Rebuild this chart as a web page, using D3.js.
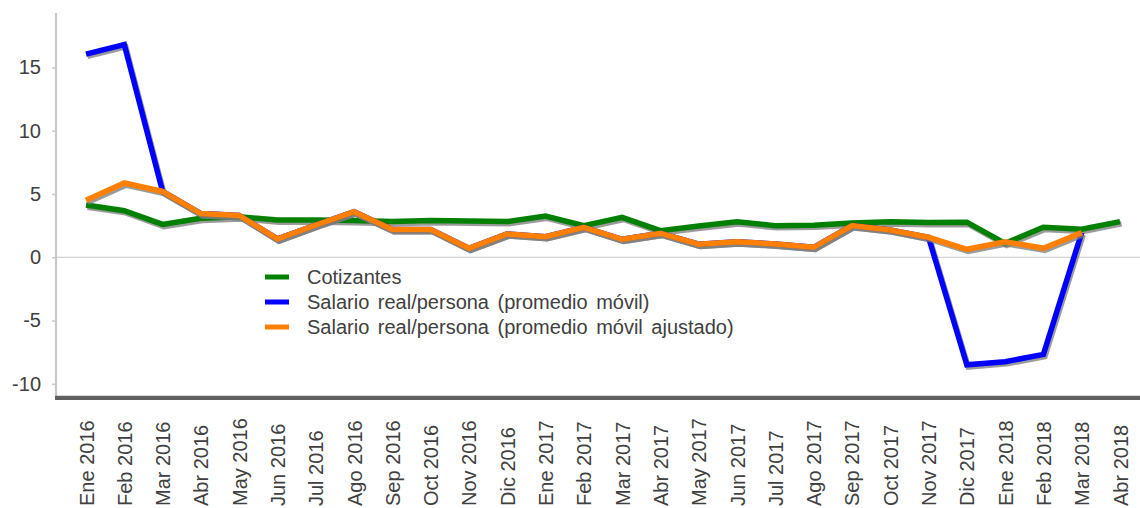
<!DOCTYPE html>
<html>
<head>
<meta charset="utf-8">
<script src="https://cdn.jsdelivr.net/npm/d3@7"></script>
<style>
  html, body { margin: 0; padding: 0; background: #fff; }
  svg { display: block; font-family: "Liberation Sans", Arial, sans-serif; }
</style>
</head>
<body>
<svg id="chart" width="1140" height="508"></svg>
<script>
const months = ["Ene 2016","Feb 2016","Mar 2016","Abr 2016","May 2016","Jun 2016","Jul 2016","Ago 2016","Sep 2016","Oct 2016","Nov 2016","Dic 2016",
                "Ene 2017","Feb 2017","Mar 2017","Abr 2017","May 2017","Jun 2017","Jul 2017","Ago 2017","Sep 2017","Oct 2017","Nov 2017","Dic 2017",
                "Ene 2018","Feb 2018","Mar 2018","Abr 2018"];
const cotizantes = [4.13,3.68,2.6,3.08,3.2,2.95,2.95,2.9,2.82,2.9,2.87,2.82,
                    3.26,2.5,3.16,2.1,2.47,2.8,2.5,2.54,2.7,2.8,2.74,2.77,
                    1.1,2.37,2.21,2.82];
const salarioMovil = [16.05,16.8,5.2,3.45,3.3,1.45,2.55,3.6,2.2,2.2,0.71,1.85,
                      1.63,2.37,1.42,1.9,1.03,1.23,1.05,0.79,2.5,2.16,1.58,-8.5,
                      -8.25,-7.67,1.95,null];
const salarioAjustado = [4.5,5.87,5.2,3.45,3.3,1.45,2.55,3.6,2.2,2.2,0.71,1.85,
                         1.63,2.37,1.42,1.9,1.03,1.23,1.05,0.79,2.5,2.16,1.58,0.63,
                         1.23,0.71,1.95,null];
const yTicks = [-10,-5,0,5,10,15];
const seriesNames = ["Cotizantes","Salario real/persona (promedio móvil)","Salario real/persona (promedio móvil ajustado)"];
const seriesColors = ["#008000","#0000ff","#ff8000"];

const svg = d3.select("#chart");
const x = d3.scalePoint().domain(months).range([86, 1120]);
const y = d3.scaleLinear().domain([-11, 19.3]).range([396.5, 13]);
const textColor = "#404040";
const fontFam = "'Liberation Sans', Arial, sans-serif";

// zero line
svg.append("line")
  .attr("x1", 56).attr("x2", 1140)
  .attr("y1", y(0)).attr("y2", y(0))
  .attr("stroke", "#c8c8c8").attr("stroke-width", 1);

// y axis
const yAxis = svg.append("g").attr("transform", "translate(56,0)")
  .call(d3.axisLeft(y).tickValues(yTicks).tickSize(4).tickPadding(11).tickFormat(d => String(d)));
yAxis.attr("font-family", null).attr("font-size", null);
yAxis.select(".domain").remove();
yAxis.selectAll(".tick line").attr("stroke", "#c8c8c8").attr("stroke-width", 1.5);
yAxis.selectAll(".tick text").attr("fill", textColor).style("font-size", "20px")
  .style("font-family", fontFam);
svg.append("line")
  .attr("x1", 56).attr("x2", 56).attr("y1", 13).attr("y2", 397)
  .attr("stroke", "#c8c8c8").attr("stroke-width", 2.2);

// x axis
const xAxis = svg.append("g").attr("transform", "translate(0,397)")
  .call(d3.axisBottom(x).tickSize(0));
xAxis.attr("font-family", null).attr("font-size", null);
xAxis.select(".domain").remove();
xAxis.selectAll(".tick text")
  .attr("transform", "translate(0,109) rotate(-90)")
  .attr("x", 0).attr("y", 0).attr("dy", "0.35em")
  .attr("text-anchor", "start")
  .attr("fill", textColor).style("font-size", "20px")
  .style("font-family", fontFam);
svg.append("line")
  .attr("x1", 55).attr("x2", 1140).attr("y1", 397.8).attr("y2", 397.8)
  .attr("stroke", "#606060").attr("stroke-width", 4.3);

// lines
const line = d3.line()
  .defined(d => d.v !== null)
  .x(d => x(d.m)).y(d => y(d.v));
const allSeries = [cotizantes, salarioMovil, salarioAjustado];
allSeries.forEach((vals, i) => {
  const data = months.map((m, j) => ({m, v: vals[j]}));
  svg.append("path").datum(data)
    .attr("d", line)
    .attr("transform", "translate(1.5,2.2)")
    .attr("fill", "none").attr("stroke", "#7a7a7a").attr("stroke-opacity", 0.75)
    .attr("stroke-width", 5.5).attr("stroke-linejoin", "miter");
  svg.append("path").datum(data)
    .attr("d", line)
    .attr("fill", "none").attr("stroke", seriesColors[i])
    .attr("stroke-width", 5.5).attr("stroke-linejoin", "miter");
});

// legend
const legend = svg.append("g");
seriesNames.forEach((name, i) => {
  const cy = 277 + i * 25;
  legend.append("line")
    .attr("x1", 265).attr("x2", 289).attr("y1", cy).attr("y2", cy)
    .attr("stroke", seriesColors[i]).attr("stroke-width", 5);
  legend.append("text")
    .attr("x", 307).attr("y", cy + 7)
    .attr("fill", textColor).style("font-size", "20px")
    .style("font-family", fontFam)
    .style("word-spacing", "3px")
    .text(name);
});
</script>
</body>
</html>
